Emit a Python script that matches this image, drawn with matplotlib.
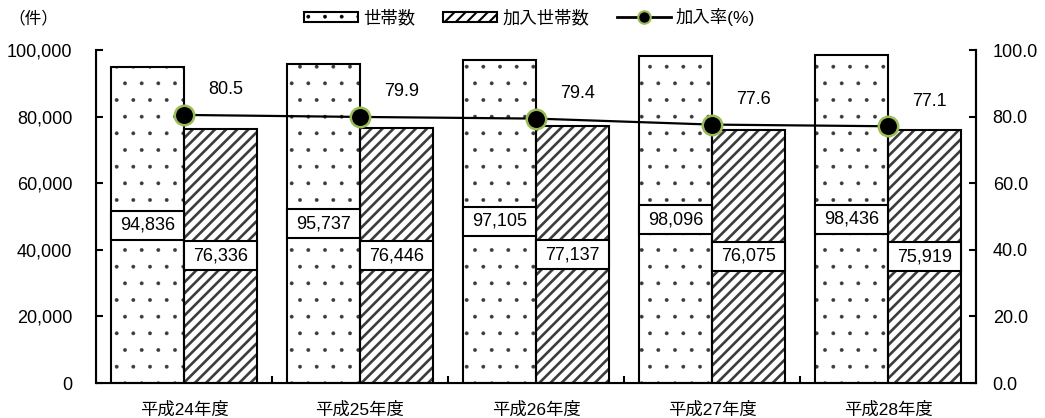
import numpy as np
import matplotlib.pyplot as plt
from matplotlib.patches import Patch, Rectangle
from matplotlib.lines import Line2D
from matplotlib.ticker import FuncFormatter

plt.rcParams['font.family'] = ['Liberation Sans', 'Noto Sans CJK JP', 'DejaVu Sans']

years = ['平成24年度', '平成25年度', '平成26年度', '平成27年度', '平成28年度']
households = [94836, 95737, 97105, 98096, 98436]
members = [76336, 76446, 77137, 76075, 75919]
rate = [80.5, 79.9, 79.4, 77.6, 77.1]

fig = plt.figure(figsize=(10.45, 4.18), dpi=100)
ax = fig.add_axes([96 / 1045, 35 / 418, 880 / 1045, 333 / 418])

x = np.arange(len(years))
w = 0.415
x1 = x - w / 2
x2 = x + w / 2


def set_hatch_lw(patches, lw):
    for p in patches:
        if hasattr(p, 'set_hatch_linewidth'):
            p.set_hatch_linewidth(lw)


# hatch pass (edge colour sets the hatch colour), then a black outline pass
with plt.rc_context({'hatch.linewidth': 0.3}):
    dots = ax.bar(x1, households, w, color='white', edgecolor='#3a3a3a', hatch='.',
                  linewidth=0, zorder=2)
set_hatch_lw(dots, 0.3)
with plt.rc_context({'hatch.linewidth': 1.9}):
    stripes = ax.bar(x2, members, w, color='white', edgecolor='#3c3c3c', hatch='///',
                     linewidth=0, zorder=2)
set_hatch_lw(stripes, 1.9)
ax.bar(x1, households, w, fill=False, edgecolor='black', linewidth=1.5, zorder=3)
ax.bar(x2, members, w, fill=False, edgecolor='black', linewidth=1.5, zorder=3)

# value boxes in the middle of each bar
box_h = 8700
for xs, vals in ((x1, households), (x2, members)):
    for xc, v in zip(xs, vals):
        ax.add_patch(Rectangle((xc - w / 2, v / 2 - box_h / 2), w, box_h,
                               facecolor='white', edgecolor='black', linewidth=1.5, zorder=4))
        ax.text(xc, v / 2, f'{v:,}', ha='center', va='center', fontsize=13, zorder=5)

ax.set_xlim(-0.5, len(years) - 0.5)
ax.set_ylim(0, 100000)
ax.set_yticks(np.arange(0, 100001, 20000))
ax.yaxis.set_major_formatter(FuncFormatter(lambda v, p: f'{int(v):,}'))
ax.tick_params(axis='y', direction='in', length=5, width=1.5, labelsize=13, pad=17)
ax.set_xticks(x)
ax.set_xticklabels(years, fontsize=12.5)
ax.tick_params(axis='x', which='major', length=0, pad=13)
ax.set_xticks(x[:-1] + 0.5, minor=True)
ax.tick_params(axis='x', which='minor', direction='in', length=5, width=1.5)
ax.spines['top'].set_visible(False)
for s in ('left', 'right', 'bottom'):
    ax.spines[s].set_linewidth(1.5)

ax2 = ax.twinx()
ax2.set_ylim(0, 100)
ax2.set_yticks(np.arange(0, 100.1, 20))
ax2.yaxis.set_major_formatter(FuncFormatter(lambda v, p: f'{v:.1f}'))
ax2.tick_params(axis='y', direction='in', length=5, width=1.5, labelsize=13, pad=12)
ax2.spines['top'].set_visible(False)
ax2.spines['right'].set_linewidth(1.5)
ax2.plot(x, rate, color='black', linewidth=1.6, marker='o', markersize=14,
         markerfacecolor='black', markeredgecolor='#9BBB59', markeredgewidth=1.8, zorder=6)
for xc, r in zip(x, rate):
    ax2.annotate(f'{r:.1f}', (xc, r), xytext=(30, 18), textcoords='offset points',
                 ha='center', va='center', fontsize=13)

fig.text(0.008, 1 - 18 / 418, '（件）', ha='left', va='center', fontsize=12)

handles = [
    Patch(facecolor='white', edgecolor='black', hatch='.', linewidth=1.5),
    Patch(facecolor='white', edgecolor='black', hatch='///', linewidth=1.5),
    Line2D([], [], color='black', linewidth=2, marker='o', markersize=9,
           markerfacecolor='black', markeredgecolor='#9BBB59', markeredgewidth=1.5),
]
leg = fig.legend(handles, ['世帯数', '加入世帯数', '加入率(%)'], loc='center',
                 bbox_to_anchor=(0.507, 1 - 17 / 418), ncol=3, frameon=False,
                 fontsize=12.5, handlelength=3.1, handleheight=0.5,
                 columnspacing=1.6, handletextpad=0.3)
legend_patches = leg.get_patches()
set_hatch_lw(legend_patches[:1], 0.3)
set_hatch_lw(legend_patches[1:2], 1.5)

fig.savefig('out.png', dpi=100)
